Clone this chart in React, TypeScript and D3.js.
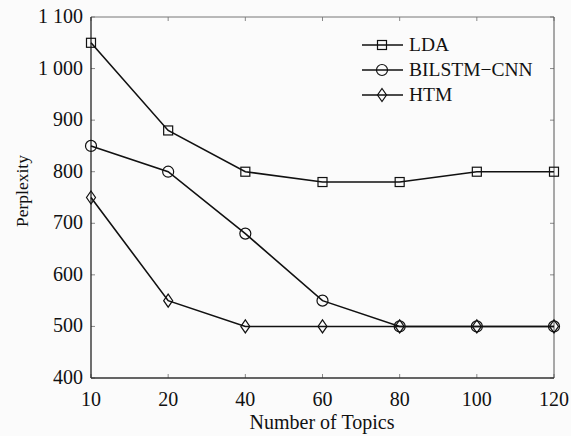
import React from 'react'
import * as d3 from 'd3'

const topics = ['10', '20', '40', '60', '80', '100', '120']
const ldaValues = [1050, 880, 800, 780, 780, 800, 800]
const bilstmValues = [850, 800, 680, 550, 500, 500, 500]
const htmValues = [750, 550, 500, 500, 500, 500, 500]
const yTicks = [400, 500, 600, 700, 800, 900, 1000, 1100]
const seriesNames = ['LDA', 'BILSTM\u2212CNN', 'HTM']

const W = 571
const H = 436
const margin = {top: 17, right: 17, bottom: 58, left: 91}
const font = 'Liberation Serif'
const txt = {fontFamily: font}

const fmt = (v: number) => v >= 1000 ? `${Math.floor(v / 1000)} ${String(v % 1000).padStart(3, '0')}` : String(v)

function Marker ({kind, x, y}: {kind: string, x: number, y: number}) {
  if (kind === 'square') {
    return <rect x={x - 4.5} y={y - 4.5} width={9} height={9} fill='none' stroke='#111' strokeWidth={1.2} />
  }
  if (kind === 'circle') {
    return <circle cx={x} cy={y} r={5.5} fill='none' stroke='#111' strokeWidth={1.2} />
  }
  return <path d={`M${x},${y - 6.5}L${x + 4.5},${y}L${x},${y + 6.5}L${x - 4.5},${y}Z`} fill='none' stroke='#111' strokeWidth={1.2} />
}

export default function App () {
  const x = d3.scalePoint<string>().domain(topics).range([margin.left, W - margin.right])
  const y = d3.scaleLinear().domain([400, 1100]).range([H - margin.bottom, margin.top])
  const line = d3.line<number>()
    .x((d, i) => x(topics[i]) as number)
    .y(d => y(d))

  const series = [
    {name: seriesNames[0], values: ldaValues, kind: 'square'},
    {name: seriesNames[1], values: bilstmValues, kind: 'circle'},
    {name: seriesNames[2], values: htmValues, kind: 'diamond'}
  ]

  const x0 = margin.left
  const x1 = W - margin.right
  const y0 = H - margin.bottom
  const y1 = margin.top

  return (
    <svg width={W} height={H} style={{display: 'block', position: 'absolute', left: 0, top: 0, fontFamily: font}}>
      <rect x={0} y={0} width={W} height={H} fill='#fbfbfb' />
      {/* ticks on all four sides, pointing inward */}
      {topics.map(t => (
        <g key={'xt' + t}>
          <line x1={x(t)} x2={x(t)} y1={y0} y2={y0 - 4} stroke='#888' />
          <line x1={x(t)} x2={x(t)} y1={y1} y2={y1 + 4} stroke='#888' />
          <text x={x(t)} y={y0 + 28} textAnchor='middle' fontSize={20} fill='#111' style={txt}>{t}</text>
        </g>
      ))}
      {yTicks.map(v => (
        <g key={'yt' + v}>
          <line x1={x0} x2={x0 + 4} y1={y(v)} y2={y(v)} stroke='#888' />
          <line x1={x1} x2={x1 - 4} y1={y(v)} y2={y(v)} stroke='#888' />
          <text x={x0 - 8} y={y(v) + 6} textAnchor='end' fontSize={20} fill='#111' style={txt}>{fmt(v)}</text>
        </g>
      ))}
      <line x1={x0} x2={x1} y1={y1} y2={y1} stroke='#777' strokeWidth={1} />
      <line x1={x1} x2={x1} y1={y1} y2={y0} stroke='#555' strokeWidth={1} />
      <line x1={x0} x2={x0} y1={y1} y2={y0} stroke='#222' strokeWidth={1.3} />
      <line x1={x0} x2={x1} y1={y0} y2={y0} stroke='#333' strokeWidth={1.3} />

      {series.map(s => (
        <g key={s.name}>
          <path d={line(s.values) || ''} fill='none' stroke='#111' strokeWidth={1.6} />
          {s.values.map((v, i) => <Marker key={i} kind={s.kind} x={x(topics[i]) as number} y={y(v)} />)}
        </g>
      ))}

      {/* legend */}
      {series.map((s, i) => {
        const ly = 45 + i * 25
        return (
          <g key={'lg' + s.name}>
            <line x1={362} x2={403} y1={ly} y2={ly} stroke='#111' strokeWidth={1.6} />
            <Marker kind={s.kind} x={382} y={ly} />
            <text x={409} y={ly + 6} fontSize={19.5} fill='#111' style={txt}>{s.name}</text>
          </g>
        )
      })}

      <text x={322} y={429} textAnchor='middle' fontSize={20} fill='#111' style={txt}>Number of Topics</text>
      <text transform={`translate(28,191) rotate(-90)`} textAnchor='middle' fontSize={17.5} fill='#111' style={txt}>Perplexity</text>
    </svg>
  )
}
